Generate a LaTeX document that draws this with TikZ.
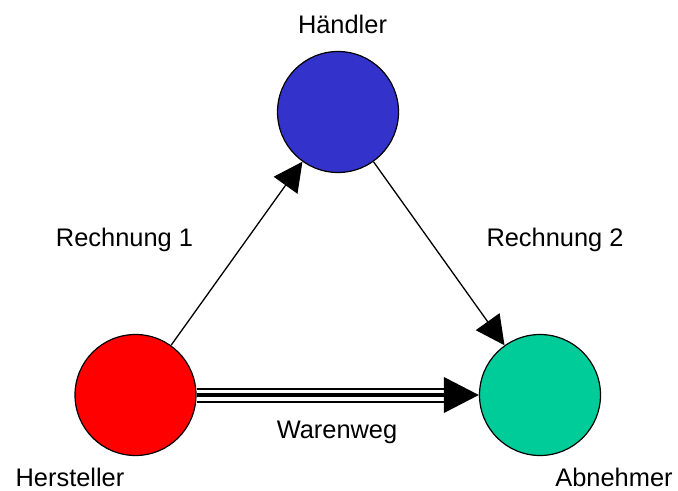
\documentclass[tikz,border=0pt]{standalone}
\usepackage{fontspec}
\setmainfont{Liberation Sans}
\usetikzlibrary{positioning, arrows.meta}
\definecolor{haendlerblue}{RGB}{51,51,204}
\definecolor{abnehmergreen}{RGB}{0,204,153}

\begin{document}
\begin{tikzpicture}[x=1bp, y=-1bp,
    party/.style={circle, draw, line width=1.2bp, minimum size=121bp, inner sep=0pt},
    lbl/.style={anchor=base, inner sep=0pt, font=\fontsize{25.5}{30}\selectfont},
    bill/.style={line width=1.3bp, -{Triangle[length=29bp, width=29bp]}}]
    \useasboundingbox (0,0) rectangle (678,491);
    % Parties
    \node (haendler) [party, fill=haendlerblue] at (338,112) {};
    \node (hersteller) [party, fill=red] at (135.5,395) {};
    \node (abnehmer) [party, fill=abnehmergreen] at (540,395) {};
    % Names
    \node (haendlerlbl) [lbl] at (342.5,34) {Händler};
    \node (herstellerlbl) [lbl] at (70,486.5) {Hersteller};
    \node (abnehmerlbl) [lbl] at (614,486.5) {Abnehmer};
    % Invoices
    \draw [bill] (hersteller) -- (haendler);
    \draw [bill] (haendler) -- (abnehmer);
    \node (rechnung1) [lbl] at (124.5,247) {Rechnung 1};
    \node (rechnung2) [lbl] at (555,247) {Rechnung 2};
    % Goods flow (triple line)
    \draw [line width=15bp, shorten >=34bp] (hersteller) -- (abnehmer);
    \draw [line width=11bp, white, shorten >=34bp] (hersteller) -- (abnehmer);
    \draw [line width=4bp, -{Triangle[length=35bp, width=35bp]}] (hersteller) -- (abnehmer);
    \node (warenweg) [lbl] at (337,438) {Warenweg};
\end{tikzpicture}
\end{document}
